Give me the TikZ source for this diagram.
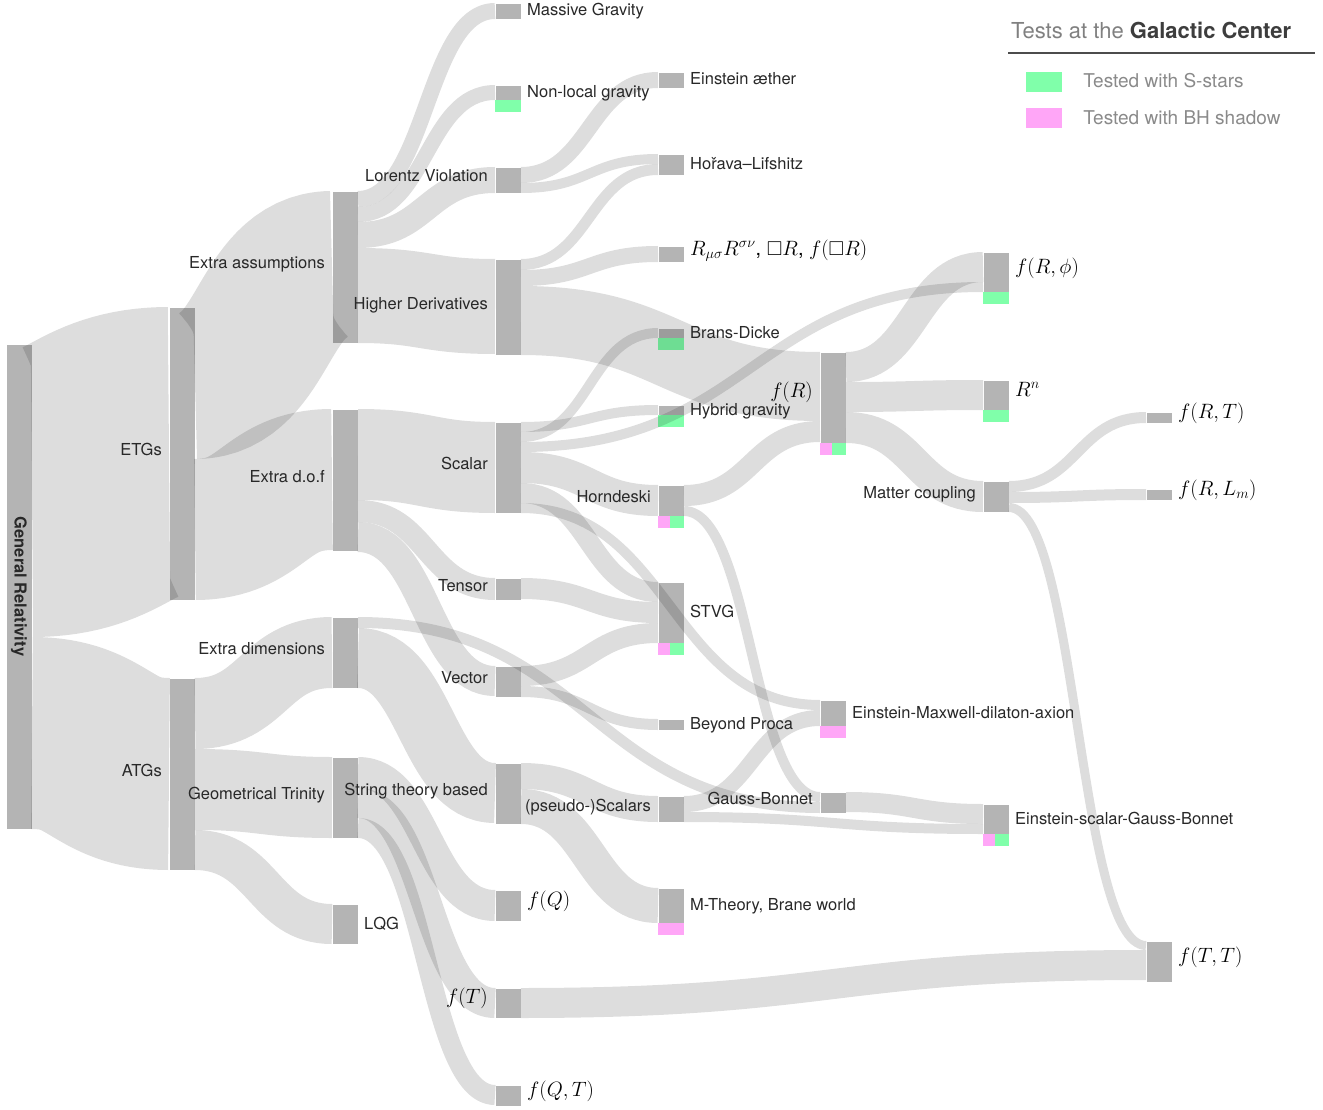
\documentclass[tikz,border=0pt]{standalone}
\usepackage{amssymb}
\usepackage{fontspec}
\setmainfont{TeX Gyre Heros}
\usetikzlibrary{positioning,calc}
\definecolor{nodegray}{RGB}{180,180,180}
\definecolor{sgreen}{RGB}{128,255,170}
\definecolor{bhpink}{RGB}{255,166,247}
\definecolor{labelgray}{RGB}{40,40,40}
\definecolor{leggray}{RGB}{138,138,138}
\newcommand{\flow}[5]{%
  \path (#1.north east) ++(0,{#2+#5/2}) coordinate (fa);
  \path (#3.north west) ++(0,{#4+#5/2}) coordinate (ta);
  \coordinate (fm) at ($(fa)!0.5!(ta)$);
  \draw[flowband, line width=#5pt] (fa) .. controls (fa -| fm) and (ta -| fm) .. (ta);}
\tikzset{
  bar/.style={fill=nodegray, draw=white, line width=0.6pt, minimum width=26pt, inner sep=0pt, outer sep=0pt},
  flowband/.style={draw=black, draw opacity=0.135},
  lbl/.style={inner sep=0pt, text=labelgray, font=\fontsize{16.5}{19}\selectfont, text height=12pt, text depth=4pt},
  lleft/.style={lbl, yshift=2pt},
  lright/.style={lbl, yshift=-1pt},
  mlbl/.style={inner sep=0pt, text=black, font=\fontsize{20}{24}\selectfont, text height=15pt, text depth=5pt, yshift=4pt},
  legbox/.style={minimum width=36pt, minimum height=20pt, inner sep=0pt},
  legtxt/.style={inner sep=0pt, text=leggray, font=\fontsize{19}{22}\selectfont}
}
\begin{document}
\begin{tikzpicture}[x=1pt, y=-1pt]
    \useasboundingbox (0,0) rectangle (1323,1110);
    \node(gr)[bar, minimum height=485pt] at (19,586.5) {};
    \node(etg)[bar, minimum height=293pt] at (182,453.5) {};
    \node(atg)[bar, minimum height=192pt] at (182,774) {};
    \node(ea)[bar, minimum height=152pt] at (345,267) {};
    \node(edof)[bar, minimum height=142pt] at (345,480) {};
    \node(edim)[bar, minimum height=71pt] at (345,652.5) {};
    \node(gt)[bar, minimum height=81pt] at (345,797.5) {};
    \node(lqg)[bar, minimum height=40pt] at (345,924) {};
    \node(mg)[bar, minimum height=16pt] at (508,11) {};
    \node(nl)[bar, minimum height=15pt] at (508,92.5) {};
    \node(lv)[bar, minimum height=26pt] at (508,180) {};
    \node(hd)[bar, minimum height=96pt] at (508,307) {};
    \node(sc)[bar, minimum height=91pt] at (508,467.5) {};
    \node(te)[bar, minimum height=22pt] at (508,589) {};
    \node(ve)[bar, minimum height=31pt] at (508,681.5) {};
    \node(stb)[bar, minimum height=61pt] at (508,793.5) {};
    \node(fq)[bar, minimum height=31pt] at (508,905.5) {};
    \node(ft)[bar, minimum height=30pt] at (508,1003) {};
    \node(fqt)[bar, minimum height=21pt] at (508,1095.5) {};
    \node(ae)[bar, minimum height=16pt] at (671,80) {};
    \node(hl)[bar, minimum height=21pt] at (671,164.5) {};
    \node(rmn)[bar, minimum height=16pt] at (671,254) {};
    \node(bd)[bar, minimum height=10pt] at (671,333) {};
    \node(hy)[bar, minimum height=10pt] at (671,410) {};
    \node(ho)[bar, minimum height=31pt] at (671,500.5) {};
    \node(stvg)[bar, minimum height=61pt] at (671,612.5) {};
    \node(bp)[bar, minimum height=11pt] at (671,724.5) {};
    \node(ps)[bar, minimum height=26pt] at (671,809) {};
    \node(mt)[bar, minimum height=35pt] at (671,905.5) {};
    \node(fr)[bar, minimum height=91pt] at (833,397.5) {};
    \node(emda)[bar, minimum height=26pt] at (833,713) {};
    \node(gb)[bar, minimum height=21pt] at (833,802.5) {};
    \node(frp)[bar, minimum height=40pt] at (996,272) {};
    \node(rn)[bar, minimum height=30pt] at (996,395) {};
    \node(mc)[bar, minimum height=31pt] at (996,496.5) {};
    \node(esgb)[bar, minimum height=30pt] at (996,819) {};
    \node(frt)[bar, minimum height=11pt] at (1159,417.5) {};
    \node(frl)[bar, minimum height=11pt] at (1159,494.5) {};
    \node(ftt)[bar, minimum height=41pt] at (1159,961.5) {};

    \fill[sgreen] (nl.south west) rectangle ++(26,12);
    \fill[sgreen] (bd.south west) rectangle ++(26,12);
    \fill[sgreen] (hy.south west) rectangle ++(26,12);
    \fill[sgreen] (frp.south west) rectangle ++(26,12);
    \fill[sgreen] (rn.south west) rectangle ++(26,12);
    \fill[bhpink] (emda.south west) rectangle ++(26,12);
    \fill[bhpink] (mt.south west) rectangle ++(26,12);
    \foreach \n in {ho,stvg,fr,esgb}{
      \fill[bhpink] (\n.south west) rectangle ++(12,12);
      \fill[sgreen] ($(\n.south west)+(12,0)$) rectangle ++(14,12);
    }

    \flow{gr}{0}{etg}{0}{293}
    \flow{gr}{293}{atg}{0}{192}
    \flow{etg}{0}{ea}{0}{152}
    \flow{etg}{152}{edof}{0}{141}
    \flow{atg}{0}{edim}{0}{71}
    \flow{atg}{71}{gt}{0}{81}
    \flow{atg}{152}{lqg}{0}{40}
    \flow{ea}{0}{mg}{0}{16}
    \flow{ea}{16}{nl}{0}{15}
    \flow{ea}{31}{lv}{0}{26}
    \flow{ea}{57}{hd}{0}{95}
    \flow{lv}{0}{ae}{0}{16}
    \flow{lv}{16}{hl}{0}{10}
    \flow{hd}{0}{hl}{10}{11}
    \flow{hd}{11}{rmn}{0}{16}
    \flow{hd}{27}{fr}{0}{69}
    \flow{edof}{0}{sc}{0}{91}
    \flow{edof}{91}{te}{0}{22}
    \flow{edof}{113}{ve}{0}{30}
    \flow{sc}{0}{hy}{0}{10}
    \flow{sc}{10}{bd}{0}{10}
    \flow{sc}{20}{frp}{30}{10}
    \flow{sc}{30}{ho}{0}{31}
    \flow{sc}{61}{stvg}{0}{20}
    \flow{sc}{81}{emda}{0}{10}
    \flow{te}{0}{stvg}{20}{21}
    \flow{ve}{0}{stvg}{41}{20}
    \flow{ve}{20}{bp}{0}{11}
    \flow{ho}{0}{fr}{69}{21}
    \flow{ho}{21}{gb}{0}{10}
    \flow{fr}{0}{frp}{0}{30}
    \flow{fr}{30}{rn}{0}{30}
    \flow{fr}{60}{mc}{0}{31}
    \flow{mc}{0}{frt}{0}{11}
    \flow{mc}{11}{frl}{0}{11}
    \flow{mc}{22}{ftt}{0}{9}
    \flow{edim}{0}{gb}{10}{11}
    \flow{edim}{11}{stb}{0}{60}
    \flow{gt}{0}{fq}{0}{31}
    \flow{gt}{31}{ft}{0}{30}
    \flow{gt}{61}{fqt}{0}{20}
    \flow{stb}{0}{ps}{0}{26}
    \flow{stb}{26}{mt}{0}{35}
    \flow{ps}{0}{emda}{10}{16}
    \flow{ps}{16}{esgb}{20}{10}
    \flow{gb}{0}{esgb}{0}{20}
    \flow{ft}{0}{ftt}{9}{30}

    \node[rotate=-90, inner sep=0pt, text=labelgray, font=\bfseries\fontsize{16.5}{19}\selectfont] at (gr) {General Relativity};
    \node[lleft, left=7pt of etg] {ETGs};
    \node[lleft, left=7pt of atg] {ATGs};
    \node[lleft, left=7pt of ea] {Extra assumptions};
    \node[lleft, left=7pt of edof] {Extra d.o.f};
    \node[lleft, left=7pt of edim] {Extra dimensions};
    \node[lleft, left=7pt of gt] {Geometrical Trinity};
    \node[lleft, left=7pt of lv] {Lorentz Violation};
    \node[lleft, left=7pt of hd] {Higher Derivatives};
    \node[lleft, left=7pt of sc] {Scalar};
    \node[lleft, left=7pt of te] {Tensor};
    \node[lleft, left=7pt of ve] {Vector};
    \node[lleft, left=7pt of stb] {String theory based};
    \node[lleft, left=7pt of ho] {Horndeski};
    \node[lleft, left=7pt of ps] {(pseudo-)Scalars};
    \node[lleft, left=7pt of gb] {Gauss-Bonnet};
    \node[lleft, left=7pt of mc] {Matter coupling};
    \node[mlbl, left=7pt of ft, yshift=1pt] {$f(T)$};
    \node[mlbl, left=7pt of fr, yshift=1pt] {$f(R)$};
    \node[lright, right=6pt of lqg] {LQG};
    \node[lright, right=6pt of mg] {Massive Gravity};
    \node[lright, right=6pt of nl] {Non-local gravity};
    \node[lright, right=6pt of ae] {Einstein æther};
    \node[lright, right=6pt of hl] {Hořava–Lifshitz};
    \node[lright, right=6pt of bd] {Brans-Dicke};
    \node[lright, right=6pt of hy] {Hybrid gravity};
    \node[lright, right=6pt of stvg] {STVG};
    \node[lright, right=6pt of bp] {Beyond Proca};
    \node[lright, right=6pt of mt] {M-Theory, Brane world};
    \node[lright, right=6pt of emda] {Einstein-Maxwell-dilaton-axion};
    \node[lright, right=6pt of esgb] {Einstein-scalar-Gauss-Bonnet};
    \node[mlbl, right=6pt of rmn] {$R_{\mu\sigma}R^{\sigma\nu}$, $\Box R$, $f(\Box R)$};
    \node[mlbl, right=6pt of fq] {$f(Q)$};
    \node[mlbl, right=6pt of fqt] {$f(Q,T)$};
    \node[mlbl, right=6pt of frp] {$f(R,\phi)$};
    \node[mlbl, right=6pt of rn] {$R^n$};
    \node[mlbl, right=6pt of frt] {$f(R,T)$};
    \node[mlbl, right=6pt of frl] {$f(R,L_m)$};
    \node[mlbl, right=6pt of ftt] {$f(T,T)$};

    \node(title)[anchor=west, inner sep=0pt, font=\fontsize{22}{26}\selectfont, text=gray] at (1011,30) {Tests at the \textbf{\color{labelgray!90}Galactic Center}};
    \draw[line width=1.2pt, black!70] (1008,53) -- (1315,53);
    \node(lgs)[legbox, fill=sgreen] at (1044,82) {};
    \node(lgb)[legbox, fill=bhpink] at (1044,118) {};
    \node[legtxt, right=21pt of lgs, yshift=1pt] {Tested with S-stars};
    \node[legtxt, right=21pt of lgb] {Tested with BH shadow};
\end{tikzpicture}
\end{document}
